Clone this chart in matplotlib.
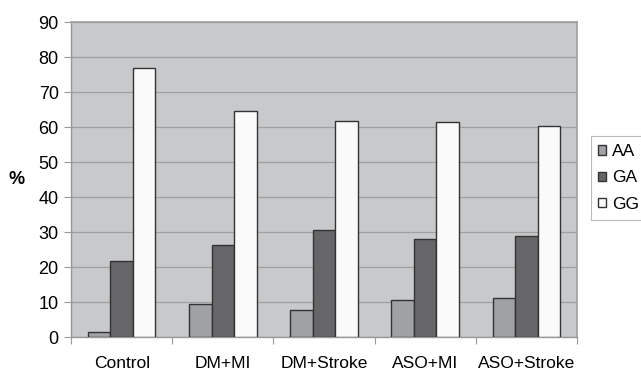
import numpy as np
import matplotlib.pyplot as plt

plt.rcParams['font.family'] = ['Liberation Sans', 'DejaVu Sans']

# Genotype frequencies (%) per group
groups = ['Control', 'DM+MI', 'DM+Stroke', 'ASO+MI', 'ASO+Stroke']
aa = [1.4, 9.4, 7.8, 10.7, 11.1]
ga = [21.8, 26.2, 30.7, 28.1, 28.8]
gg = [76.8, 64.7, 61.7, 61.3, 60.2]
series_names = ['AA', 'GA', 'GG']

fig = plt.figure(figsize=(6.41, 3.71), dpi=100)
ax = fig.add_axes([0.111, 0.0916, 0.789, 0.849])
ax.set_facecolor('#c8c9cb')

x = np.arange(len(groups))
w = 0.222
colors = ['#a0a1a4', '#666668', '#fafafa']
for i, (vals, c) in enumerate(zip([aa, ga, gg], colors)):
    ax.bar(x + (i - 1) * w, vals, w, color=c, edgecolor='#333333',
           linewidth=1.0, label=series_names[i], zorder=3)

ax.set_ylim(0, 90)
ax.set_yticks(range(0, 91, 10))
ax.set_xlim(-0.5, len(groups) - 0.5)
ax.set_xticks(x)
ax.set_xticklabels(groups, fontsize=12.5)
ax.set_xticks(np.arange(-0.5, len(groups)), minor=True)
ax.tick_params(axis='x', which='major', length=0, pad=14)
ax.tick_params(axis='x', which='minor', length=5, color='#999999', width=0.8)
ax.tick_params(axis='y', length=5, color='#999999', width=0.8, labelsize=13, pad=4)
ax.yaxis.grid(True, color='#a0a0a0', linewidth=0.9, zorder=0)
ax.set_axisbelow(True)

for s in ['top', 'right']:
    ax.spines[s].set_color('#a0a0a0')
    ax.spines[s].set_linewidth(1.2)
for s in ['left', 'bottom']:
    ax.spines[s].set_color('#999999')
    ax.spines[s].set_linewidth(1.0)

ax.set_ylabel('%', fontsize=13, fontweight='bold', rotation=0, labelpad=16, va='center')

leg = ax.legend(loc='center left', bbox_to_anchor=(1.027, 0.505), borderaxespad=0,
                frameon=True, fancybox=False, edgecolor='#aaaaaa', fontsize=12.5,
                handlelength=0.45, handleheight=0.45, handletextpad=0.35,
                borderpad=0.45, labelspacing=0.65)
leg.get_frame().set_linewidth(0.8)

fig.savefig('out.png', dpi=100)
